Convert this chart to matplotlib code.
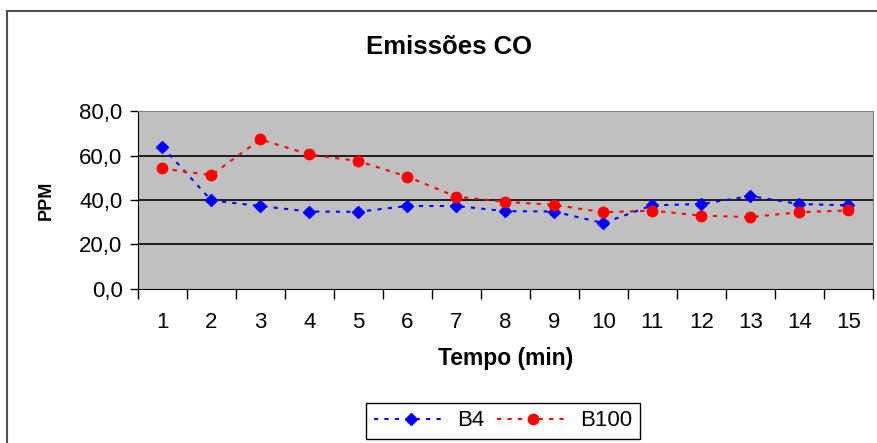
import numpy as np
from matplotlib import pyplot as plt
from matplotlib.lines import Line2D

plt.rcParams['font.family'] = ['Liberation Sans', 'DejaVu Sans']

# data
tempo = list(range(1, 16))
b4 = [64.0, 39.8, 37.3, 34.8, 34.7, 37.3, 37.3, 35.0, 34.8, 29.6, 37.6, 38.2, 41.8, 38.2, 37.6]
b100 = [54.2, 51.2, 67.3, 60.5, 57.5, 50.5, 41.5, 39.2, 37.8, 34.5, 35.2, 33.0, 32.3, 34.5, 35.3]
y_ticks = [0, 20, 40, 60, 80]

fig = plt.figure(figsize=(8.78, 4.43), dpi=100)
# outer chart border (only top and left edges are visible in the original)
fig.add_artist(Line2D([0.008, 0.008], [-0.01, 0.976], transform=fig.transFigure,
                      color='#505050', linewidth=1.5))
fig.add_artist(Line2D([0.008, 1.01], [0.976, 0.976], transform=fig.transFigure,
                      color='#505050', linewidth=1.5))

ax = fig.add_axes([0.157, 0.348, 0.837, 0.401])
ax.set_facecolor('#C0C0C0')

ax.plot(tempo, b4, color='#0000FF', linestyle=(0, (2, 3)), linewidth=1.5,
        marker='D', markersize=6.5, label='B4')
ax.plot(tempo, b100, color='#FF0000', linestyle=(0, (2, 3)), linewidth=1.5,
        marker='o', markersize=7.5, label='B100')

ax.set_xlim(0.5, 15.5)
ax.set_ylim(0, 80)
ax.set_yticks(y_ticks)
ax.set_yticklabels([('%.1f' % v).replace('.', ',') for v in y_ticks], fontsize=16)
for v in y_ticks[1:-1]:
    ax.axhline(v, color='black', linewidth=1.2, zorder=0.5)

# Excel style: ticks between categories, labels centred
ax.set_xticks(np.arange(0.5, 16, 1))
ax.set_xticklabels([])
ax.set_xticks(tempo, minor=True)
ax.set_xticklabels([str(t) for t in tempo], minor=True, fontsize=16)
ax.tick_params(axis='x', which='major', length=7, width=1, direction='out')
ax.tick_params(axis='x', which='minor', length=0, pad=17)
ax.tick_params(axis='y', length=6, width=1, direction='out', pad=5)

for s in ['top', 'right']:
    ax.spines[s].set_color('#808080')
for s in ['left', 'bottom']:
    ax.spines[s].set_color('black')

ax.set_xlabel('Tempo (min)', fontsize=16.5, fontweight='bold', labelpad=10)
ax.set_ylabel('PPM', fontsize=13, fontweight='bold', labelpad=18)
fig.text(0.512, 0.895, 'Emissões CO', ha='center', va='center', fontsize=18.5, fontweight='bold')

fig.legend(loc='center', bbox_to_anchor=(0.573, 0.05), ncol=2, fontsize=16,
           frameon=True, fancybox=False, edgecolor='black', framealpha=1,
           handlelength=3.3, handletextpad=0.45, columnspacing=0.55,
           borderpad=0.35, borderaxespad=0)

fig.savefig('out.png', dpi=100)
